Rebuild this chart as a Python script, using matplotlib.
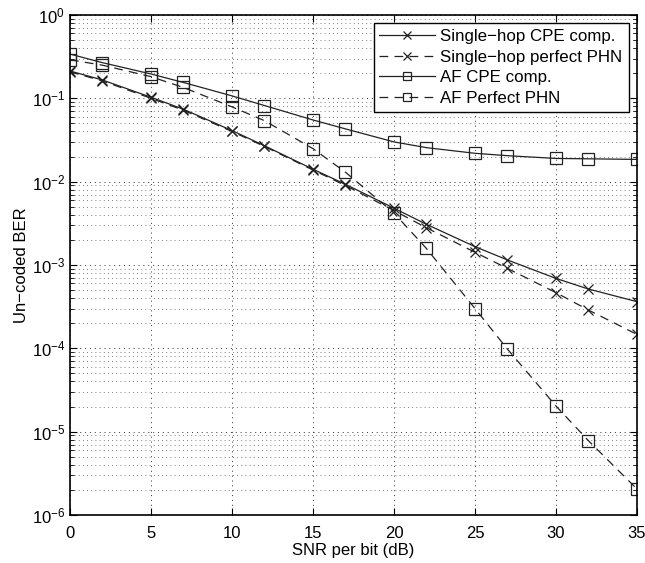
import matplotlib
matplotlib.use("Agg")
import matplotlib.pyplot as plt
from matplotlib.ticker import LogLocator, NullFormatter, MultipleLocator

plt.rcParams['font.family'] = ['Liberation Sans', 'DejaVu Sans']

snr = [0, 2, 5, 7, 10, 12, 15, 17, 20, 22, 25, 27, 30, 32, 35]

sh_cpe = [0.213, 0.166, 0.103, 0.074, 0.041, 0.027, 0.0141, 0.0093, 0.0048,
          0.00308, 0.00166, 0.00115, 0.00069, 0.000515, 0.000363]
sh_perfect = [0.208, 0.162, 0.100, 0.072, 0.040, 0.0265, 0.0138, 0.0090, 0.0045,
              0.0028, 0.00142, 0.00091, 0.000466, 0.000288, 0.000147]
af_cpe = [0.34, 0.268, 0.196, 0.155, 0.107, 0.082, 0.055, 0.043, 0.030,
          0.0256, 0.0219, 0.0205, 0.019, 0.0188, 0.0185]
af_perfect = [0.29, 0.25, 0.182, 0.135, 0.079, 0.054, 0.0249, 0.013, 0.0042,
              0.00158, 0.0003, 9.8e-5, 2.03e-5, 7.8e-6, 2.05e-6]

labels = ['Single\u2212hop CPE comp.', 'Single\u2212hop perfect PHN',
          'AF CPE comp.', 'AF Perfect PHN']

fig = plt.figure(figsize=(6.45, 5.63), dpi=100)
ax = fig.add_axes([70/645, 1-515/563, 567/645, 500/563])

lw = 0.9
c = '#222222'
ax.semilogy(snr, sh_cpe, '-', color=c, marker='x', ms=7.5, mew=0.9, lw=lw, label=labels[0])
ax.semilogy(snr, sh_perfect, '--', color=c, marker='x', ms=7.5, mew=0.9, lw=lw,
            dashes=(7, 5), label=labels[1])
ax.semilogy(snr, af_cpe, '-', color=c, marker='s', ms=8, mfc='none', mew=0.9, lw=lw, label=labels[2])
ax.semilogy(snr, af_perfect, '--', color=c, marker='s', ms=8, mfc='none', mew=0.9, lw=lw,
            dashes=(7, 5), label=labels[3])

ax.set_xlim(0, 35)
ax.set_ylim(1e-6, 1)
ax.xaxis.set_major_locator(MultipleLocator(5))
ax.yaxis.set_major_locator(LogLocator(base=10, numticks=10))
ax.yaxis.set_minor_locator(LogLocator(base=10, subs=range(2, 10), numticks=20))
ax.yaxis.set_minor_formatter(NullFormatter())

ax.grid(True, which='major', axis='both', linestyle=(0, (1, 4)), color='#333333', lw=0.7)
ax.grid(True, which='minor', axis='y', linestyle=(0, (1, 4)), color='#555555', lw=0.6)

ax.tick_params(which='both', direction='in', top=True, right=True, labelsize=12)
ax.tick_params(axis='x', which='major', pad=8)
ax.tick_params(which='major', length=5)
ax.tick_params(which='minor', length=3)
for s in ax.spines.values():
    s.set_linewidth(1.2)

ax.set_xlabel('SNR per bit (dB)', fontsize=12, labelpad=1)
ax.set_ylabel('Un\u2212coded BER', fontsize=12, labelpad=2)

leg = ax.legend(loc='upper right', fontsize=12.2, frameon=True, fancybox=False,
                edgecolor='black', framealpha=1, handlelength=3.3, borderpad=0.35,
                labelspacing=0.32, handletextpad=0.3, borderaxespad=0.5, markerscale=0.75)
leg.get_frame().set_linewidth(1.0)

fig.savefig('out.png', dpi=100)
